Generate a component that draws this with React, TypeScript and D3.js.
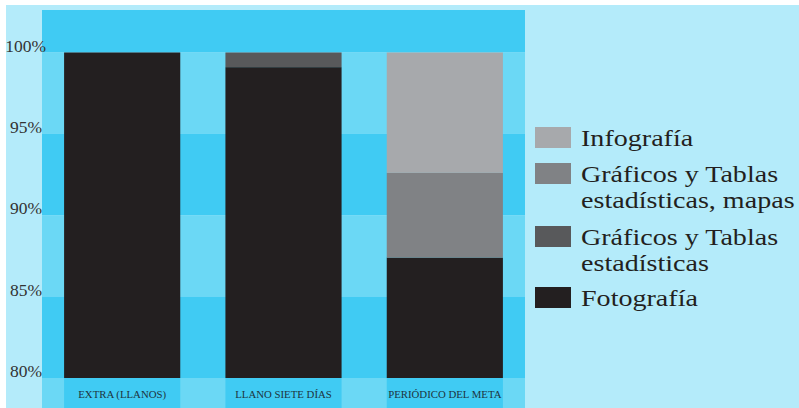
import React from "react";
import * as d3 from "d3";

const categories = ["EXTRA (LLANOS)", "LLANO SIETE DÍAS", "PERIÓDICO DEL META"];
const seriesKeys = ["Fotografía", "Gráficos y Tablas estadísticas", "Gráficos y Tablas estadísticas, mapas", "Infografía"];
const fotografia = [100, 99.1, 87.4];
const graficos = [0, 0.9, 0];
const graficosMapas = [0, 0, 5.2];
const infografia = [0, 0, 7.4];
const yTicks = [80, 85, 90, 95, 100];
const seriesColors = ["#231f20", "#58595b", "#808285", "#a7a9ac"];
const legendLines = [
  ["Fotografía"],
  ["Gráficos y Tablas", "estadísticas"],
  ["Gráficos y Tablas", "estadísticas, mapas"],
  ["Infografía"],
];

const W = 799;
const H = 408;
const DARK = "#40cbf3";
const LIGHT = "#6bd8f5";
const OUTER = "#b4ebfa";
const FONT = "'Liberation Serif', 'DejaVu Serif', serif";

export default function App() {
  const plotL = 42, plotR = 525, plotT = 10, plotB = 408;
  const x = d3.scaleBand<string>().domain(categories).range([plotL, plotR]).paddingInner(0.28).paddingOuter(0.137);
  const y = d3.scaleLinear().domain([80, 100]).range([378, 52.5]);

  const rows = categories.map((c, i) => ({
    cat: c,
    [seriesKeys[0]]: fotografia[i],
    [seriesKeys[1]]: graficos[i],
    [seriesKeys[2]]: graficosMapas[i],
    [seriesKeys[3]]: infografia[i],
  }));
  const stacked = d3.stack<any>().keys(seriesKeys)(rows);

  const bandEdges = [plotT, ...yTicks.slice().reverse().map((t) => y(t))];
  const bands = [];
  for (let i = 0; i < bandEdges.length - 1; i++) {
    bands.push({ y0: bandEdges[i], y1: bandEdges[i + 1], color: i % 2 === 0 ? DARK : LIGHT });
  }

  const legendX = 535;
  const legendItems = [
    { s: 3, y: 127 },
    { s: 2, y: 163 },
    { s: 1, y: 226 },
    { s: 0, y: 287 },
  ];

  return (
    <svg width={W} height={H} style={{ position: "absolute", left: 0, top: 0, display: "block" }}>
      <rect x={0} y={0} width={W} height={H} fill="#ffffff" />
      <rect x={6} y={5} width={W - 6} height={H - 5} fill={OUTER} />
      {bands.map((b, i) => (
        <rect key={"b" + i} x={plotL} y={b.y0} width={plotR - plotL} height={b.y1 - b.y0} fill={b.color} />
      ))}
      <rect x={plotL} y={y(80)} width={plotR - plotL} height={plotB - y(80)} fill={LIGHT} />
      {categories.map((c) => (
        <rect key={"c" + c} x={x(c)} y={y(80)} width={x.bandwidth()} height={plotB - y(80)} fill={DARK} />
      ))}
      {stacked.map((layer, si) => (
        <g key={"s" + si} fill={seriesColors[si]}>
          {layer.map((d, i) => {
            const v0 = Math.max(d[0], 80);
            const v1 = Math.max(d[1], 80);
            if (v1 - v0 <= 0) return null;
            return (
              <rect key={i} x={x(categories[i])} y={y(v1)} width={x.bandwidth()} height={y(v0) - y(v1)} />
            );
          })}
        </g>
      ))}
      {yTicks.map((t) => (
        <text key={"t" + t} x={t === 100 ? 46 : 42} y={y(t) - 1} textAnchor="end" fontFamily={FONT} fontSize={17.5} fill="#333">
          {t}%
        </text>
      ))}
      {categories.map((c) => (
        <text key={"l" + c} x={(x(c) as number) + x.bandwidth() / 2} y={398} textAnchor="middle" fontFamily={FONT} fontSize={10.8} fill="#1e3440">
          {c}
        </text>
      ))}
      {legendItems.map((it) => (
        <g key={"lg" + it.s}>
          <rect x={legendX} y={it.y} width={36} height={21} fill={seriesColors[it.s]} />
          {legendLines[it.s].map((ln, k) => (
            <text key={k} transform={`translate(581,${it.y + 19 + k * 26}) scale(1.17,1)`} x={0} y={0} fontFamily={FONT} fontSize={24} fill="#231f20">
              {ln}
            </text>
          ))}
        </g>
      ))}
    </svg>
  );
}
